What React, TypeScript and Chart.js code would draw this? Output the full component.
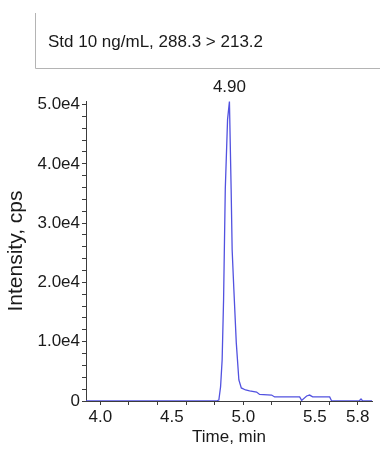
import React, { useEffect, useRef } from "react";
import { Chart, registerables } from "chart.js";

Chart.register(...registerables);

// ---- data ----
const TITLE = "Std 10 ng/mL, 288.3 > 213.2";
const PEAK_LABEL = "4.90";
const X_TITLE = "Time, min";
const Y_TITLE = "Intensity, cps";

const X_MIN = 3.9;
const X_MAX = 5.9;
const Y_MIN = 0;
const Y_MAX = 50600;

const X_LABELED_TICKS = [4.0, 4.5, 5.0, 5.5, 5.8];
const X_TICK_MARKS = [4.0, 4.2, 4.4, 4.6, 4.8, 5.0, 5.2, 5.4, 5.6, 5.8];

const Y_MAJOR_TICKS = [0, 10000, 20000, 30000, 40000, 50000];
const Y_MAJOR_LABELS = ["0", "1.0e4", "2.0e4", "3.0e4", "4.0e4", "5.0e4"];
const Y_MINOR_TICKS = [
  2000, 4000, 6000, 8000, 12000, 14000, 16000, 18000, 22000, 24000, 26000, 28000,
  32000, 34000, 36000, 38000, 42000, 44000, 46000, 48000,
];

const TIMES = [
  3.9, 4.81, 4.829, 4.841, 4.852, 4.862, 4.874, 4.89, 4.903, 4.915, 4.922, 4.934,
  4.951, 4.969, 4.986, 5.016, 5.044, 5.093, 5.114, 5.198, 5.219, 5.394, 5.408,
  5.443, 5.464, 5.485, 5.604, 5.618, 5.81, 5.823, 5.835, 5.9,
];
const INTENSITY = [
  0, 0, 170, 2370, 6900, 17000, 35700, 47500, 50500, 35700, 25500, 18800, 9800,
  3550, 2200, 1860, 1700, 1500, 1100, 1000, 680, 680, 100, 850, 1000, 700, 680, 0,
  0, 340, 0, 0,
];

const FONT = "'Liberation Sans', Arial, sans-serif";
const LINE_COLOR = "#5252e0";
const AXIS_COLOR = "#3c3c3c";
const TEXT_COLOR = "#1a1a1a";

const near = (a: number, list: number[]) => list.some((v) => Math.abs(v - a) < 1e-6);

const decorPlugin = {
  id: "decor",
  afterDraw(chart: any) {
    const ctx = chart.ctx;
    ctx.save();
    // title box
    ctx.strokeStyle = "#b4b4b4";
    ctx.lineWidth = 1;
    ctx.beginPath();
    ctx.moveTo(35.5, 13);
    ctx.lineTo(35.5, 68.5);
    ctx.lineTo(380, 68.5);
    ctx.stroke();
    ctx.fillStyle = TEXT_COLOR;
    ctx.font = `17px ${FONT}`;
    ctx.textAlign = "left";
    ctx.textBaseline = "alphabetic";
    ctx.fillText(TITLE, 48, 47);
    // peak label
    let pi = 0;
    INTENSITY.forEach((v, i) => {
      if (v > INTENSITY[pi]) pi = i;
    });
    const px = chart.scales.x.getPixelForValue(TIMES[pi]);
    const py = chart.scales.y.getPixelForValue(INTENSITY[pi]);
    ctx.textAlign = "center";
    ctx.fillText(PEAK_LABEL, px, py - 10);
    ctx.restore();
  },
};

export default function App() {
  const ref = useRef<HTMLCanvasElement | null>(null);
  useEffect(() => {
    if (!ref.current) return;
    const chart = new Chart(ref.current, {
      type: "line",
      data: {
        datasets: [
          {
            data: TIMES.map((t, i) => ({ x: t, y: INTENSITY[i] })),
            borderColor: LINE_COLOR,
            borderWidth: 1.3,
            pointRadius: 0,
            tension: 0,
            fill: false,
          },
        ],
      },
      options: {
        animation: false,
        responsive: false,
        devicePixelRatio: 1,
        layout: { padding: { top: 101, right: 8, left: 0, bottom: 0 } },
        plugins: { legend: { display: false }, tooltip: { enabled: false } },
        scales: {
          x: {
            type: "linear",
            min: X_MIN,
            max: X_MAX,
            afterBuildTicks: (scale: any) => {
              const vals = Array.from(new Set([...X_TICK_MARKS, ...X_LABELED_TICKS])).sort(
                (a, b) => a - b
              );
              scale.ticks = vals.map((v) => ({ value: v }));
            },
            afterFit: (scale: any) => {
              scale.height = 51;
            },
            ticks: {
              autoSkip: false,
              maxRotation: 0,
              padding: 2,
              color: TEXT_COLOR,
              font: { family: FONT, size: 17 },
              callback: (v: any) => (near(Number(v), X_LABELED_TICKS) ? Number(v).toFixed(1) : ""),
            },
            grid: {
              drawOnChartArea: false,
              tickLength: 4,
              tickColor: (c: any) =>
                c.tick && near(c.tick.value, X_TICK_MARKS) ? AXIS_COLOR : "rgba(0,0,0,0)",
            },
            border: { display: true, color: AXIS_COLOR, width: 1 },
            title: {
              display: true,
              text: X_TITLE,
              color: TEXT_COLOR,
              font: { family: FONT, size: 17 },
              padding: { top: 0, bottom: 4 },
            },
          },
          y: {
            type: "linear",
            min: Y_MIN,
            max: Y_MAX,
            afterBuildTicks: (scale: any) => {
              const vals = [...Y_MAJOR_TICKS, ...Y_MINOR_TICKS].sort((a, b) => a - b);
              scale.ticks = vals.map((v) => ({ value: v }));
            },
            afterFit: (scale: any) => {
              scale.width = 86;
            },
            ticks: {
              autoSkip: false,
              padding: 2,
              color: TEXT_COLOR,
              font: { family: FONT, size: 17 },
              callback: (v: any) => {
                const idx = Y_MAJOR_TICKS.indexOf(Number(v));
                return idx >= 0 ? Y_MAJOR_LABELS[idx] : "";
              },
            },
            grid: {
              drawOnChartArea: false,
              tickLength: 4,
              tickColor: AXIS_COLOR,
            },
            border: { display: true, color: AXIS_COLOR, width: 1 },
            title: {
              display: true,
              text: Y_TITLE,
              color: TEXT_COLOR,
              font: { family: FONT, size: 21 },
              padding: { top: 4, bottom: 0 },
            },
          },
        },
      },
      plugins: [decorPlugin],
    });
    return () => chart.destroy();
  }, []);
  return (
    <div style={{ position: "absolute", left: 0, top: 0, width: 380, height: 452, background: "#fff" }}>
      <canvas ref={ref} width={380} height={452} style={{ display: "block" }} />
    </div>
  );
}
